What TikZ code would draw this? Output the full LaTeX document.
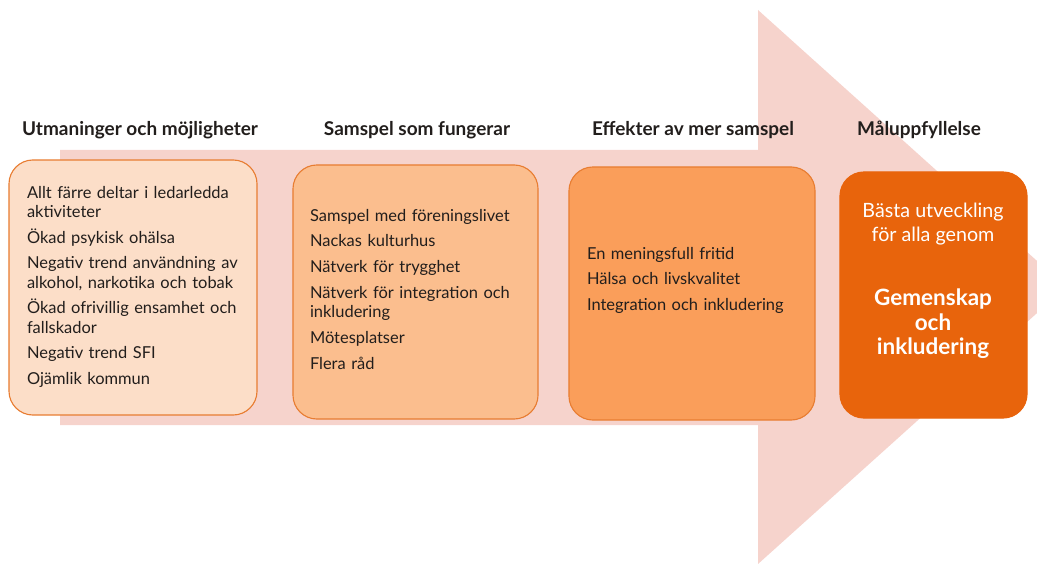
\documentclass[tikz,border=0pt]{standalone}
\usepackage{fontspec}
\setmainfont{Lato}
\definecolor{arrowpink}{RGB}{246,211,204}
\definecolor{boxedge}{RGB}{232,125,50}
\definecolor{fillA}{RGB}{252,222,200}
\definecolor{fillB}{RGB}{251,190,142}
\definecolor{fillC}{RGB}{250,158,90}
\definecolor{fillD}{RGB}{232,100,12}
\definecolor{textgray}{RGB}{34,30,28}

\begin{document}
\begin{tikzpicture}[x=0.025cm,y=-0.025cm,
    every node/.style={inner sep=0pt, outer sep=0pt},
    box/.style={draw=boxedge, line width=0.8pt, rounded corners=0.6cm},
    header/.style={font=\bfseries\fontsize{13.5}{16}\selectfont, text=textgray},
    items/.style={align=left, anchor=north west, text width=5.8cm, text=textgray,
                  font=\fontsize{11.7}{13.6}\selectfont}]
    \useasboundingbox (0,0) rectangle (1037,564);
    \clip (0,0) rectangle (1037,564);
    % big arrow in the background
    \fill[arrowpink] (60,150) -- (758,150) -- (758,10) -- (1066,287)
                     -- (758,564) -- (758,425) -- (60,425) -- cycle;

    % column headers
    \node[header] (h1) at (140,130) {Utmaninger och möjligheter};
    \node[header] (h2) at (417,130) {Samspel som fungerar};
    \node[header] (h3) at (693,130) {Effekter av mer samspel};
    \node[header] (h4) at (919,130) {Måluppfyllelse};

    % boxes
    \node[box, fill=fillA, minimum width=6.2cm, minimum height=6.375cm] (b1) at (133,287.5) {};
    \node[box, fill=fillB, minimum width=6.125cm, minimum height=6.35cm] (b2) at (415.5,292) {};
    \node[box, fill=fillC, minimum width=6.15cm, minimum height=6.325cm] (b3) at (692,293.5) {};
    \node[box, draw=fillD, fill=fillD, minimum width=4.675cm, minimum height=6.15cm] (b4) at (933.5,295) {};

    % box texts
    \node[items] (t1) at (27,186) {Allt färre deltar i ledarledda\\ aktiviteter\\[4.8pt]
        Ökad psykisk ohälsa\\[4.8pt]
        Negativ trend användning av\\ alkohol, narkotika och tobak\\[4.8pt]
        Ökad ofrivillig ensamhet och\\ fallskador\\[4.8pt]
        Negativ trend SFI\\[4.8pt]
        Ojämlik kommun};
    \node[items] (t2) at (310,209) {Samspel med föreningslivet\\[4.8pt]
        Nackas kulturhus\\[4.8pt]
        Nätverk för trygghet\\[4.8pt]
        Nätverk för integration och\\ inkludering\\[4.8pt]
        Mötesplatser\\[4.8pt]
        Flera råd};
    \node[items] (t3) at (587,247) {En meningsfull fritid\\[4.8pt]
        Hälsa och livskvalitet\\[4.8pt]
        Integration och inkludering};
    \node[align=center, text=white, font=\fontsize{14}{16.5}\selectfont] (t4) at (933,224)
        {Bästa utveckling\\ för alla genom};
    \node[align=center, text=white, font=\bfseries\fontsize{16}{17.5}\selectfont] (t5) at (933,324)
        {Gemenskap\\ och\\ inkludering};
\end{tikzpicture}
\end{document}
